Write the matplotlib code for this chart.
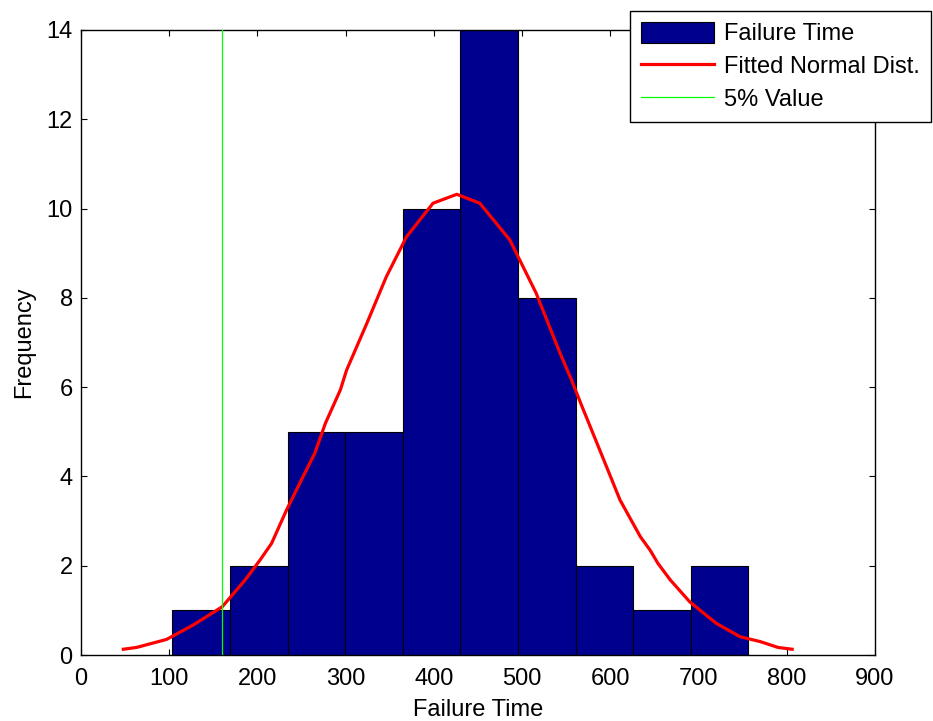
import numpy as np
import matplotlib
matplotlib.use("Agg")
import matplotlib.pyplot as plt

plt.rcParams['font.family'] = ['Liberation Sans', 'DejaVu Sans']

# histogram of failure times
bin_edges = [103.5, 168.8, 234.1, 299.4, 364.7, 430.0, 495.3, 560.6, 625.9, 691.2, 756.5]
counts = [1, 2, 5, 5, 10, 14, 8, 2, 1, 2]

# fitted normal curve, scaled to counts
fit_x = [48, 63, 97, 127, 160, 186, 203, 216, 233, 248, 265, 277, 294, 301, 324,
         346, 369, 399, 426, 452, 486, 516, 543, 556, 568, 588, 611, 634, 645,
         654, 668, 690, 720, 747, 770, 790, 806]
fit_y = [0.13, 0.17, 0.35, 0.67, 1.08, 1.68, 2.13, 2.50, 3.25, 3.85, 4.52, 5.19,
         5.94, 6.38, 7.43, 8.47, 9.37, 10.12, 10.32, 10.12, 9.30, 8.10, 6.76,
         6.16, 5.56, 4.59, 3.47, 2.65, 2.35, 2.05, 1.68, 1.19, 0.71, 0.41, 0.30,
         0.17, 0.13]

five_pct = 160

fig = plt.figure(figsize=(9.33, 7.21), dpi=100)
ax = fig.add_axes([0.0868, 0.0915, 0.8511, 0.8669])

lefts = np.array(bin_edges[:-1])
widths = np.diff(bin_edges)
bars = ax.bar(lefts, counts, width=widths, align='edge', color='#00008F',
              edgecolor='black', linewidth=0.8, zorder=2)
fit_line, = ax.plot(fit_x, fit_y, color='#FF0000', linewidth=2.3, zorder=3)
pct_line = ax.axvline(five_pct, color='#00FF00', linewidth=0.9, zorder=4)

ax.set_xlim(0, 900)
ax.set_ylim(0, 14)
ax.set_xticks(range(0, 901, 100))
ax.set_yticks(range(0, 15, 2))
ax.tick_params(direction='in', top=True, right=True, length=4, width=0.8,
               labelsize=17)
ax.tick_params(axis='x', pad=9)
ax.tick_params(axis='y', pad=6)
for s in ax.spines.values():
    s.set_linewidth(1.0)

ax.set_xlabel('Failure Time', fontsize=17, labelpad=7)
ax.set_ylabel('Frequency', fontsize=17, labelpad=8)

leg = fig.legend([bars, fit_line, pct_line],
                 ['Failure Time', 'Fitted Normal Dist.', '5% Value'],
                 loc='upper left', bbox_to_anchor=(630 / 933, 1 - 11 / 721),
                 borderaxespad=0, fontsize=17, fancybox=False, framealpha=1,
                 edgecolor='black', handlelength=3.1, handleheight=1.0,
                 handletextpad=0.45, labelspacing=0.4, borderpad=0.45)
leg.get_frame().set_linewidth(1.0)

fig.savefig('out.png', dpi=100)
